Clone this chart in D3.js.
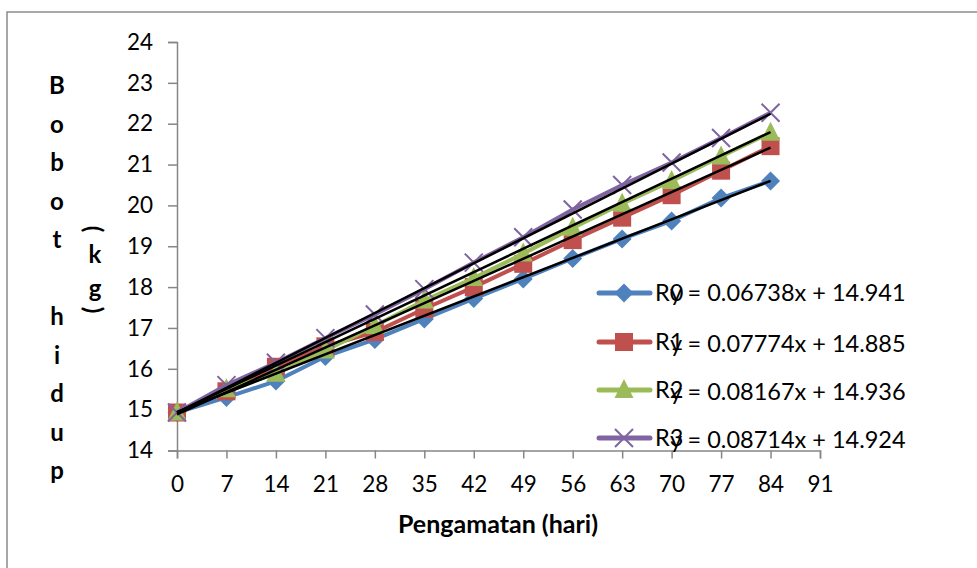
<!DOCTYPE html>
<html>
<head>
<meta charset="utf-8">
<script src="https://cdn.jsdelivr.net/npm/d3@7"></script>
<style>
  body { margin: 0; background: #fff; }
  text { font-family: Lato, "Open Sans", sans-serif; fill: #000; }
</style>
</head>
<body>
<script>
// data
var days = [0, 7, 14, 21, 28, 35, 42, 49, 56, 63, 70, 77, 84];
var r0 = [14.93, 15.30, 15.70, 16.30, 16.72, 17.22, 17.72, 18.20, 18.70, 19.18, 19.62, 20.18, 20.60];
var r1 = [14.93, 15.45, 16.05, 16.55, 16.90, 17.47, 18.00, 18.57, 19.15, 19.70, 20.25, 20.85, 21.45];
var r2 = [14.93, 15.50, 15.88, 16.45, 17.05, 17.67, 18.22, 18.82, 19.45, 20.04, 20.60, 21.20, 21.78];
var r3 = [14.93, 15.60, 16.15, 16.75, 17.33, 17.95, 18.60, 19.22, 19.90, 20.50, 21.05, 21.65, 22.27];
var seriesNames = ['R0', 'R1', 'R2', 'R3'];
var slopes = [0.06738, 0.07774, 0.08167, 0.08714];
var intercepts = [14.941, 14.885, 14.936, 14.924];
var xTicks = [0, 7, 14, 21, 28, 35, 42, 49, 56, 63, 70, 77, 84, 91];
var yTicks = [14, 15, 16, 17, 18, 19, 20, 21, 22, 23, 24];
var yTitle1 = ['B', 'o', 'b', 'o', 't', '', 'h', 'i', 'd', 'u', 'p'];

var colors = ['#4F81BD', '#C0504D', '#9BBB59', '#8064A2'];
var shapes = ['diamond', 'square', 'triangle', 'cross'];
var allSeries = [r0, r1, r2, r3];

var svg = d3.select('body').append('svg')
    .attr('width', 977).attr('height', 568);

// chart border
svg.append('rect')
    .attr('x', 7).attr('y', 12).attr('width', 1000).attr('height', 600)
    .attr('fill', 'none').attr('stroke', '#8c8c8c').attr('stroke-width', 1.5);

var x = d3.scaleLinear().domain([0, 91]).range([177, 820]);
var y = d3.scaleLinear().domain([14, 24]).range([450.5, 42]);

// axes
var yAxis = svg.append('g').attr('transform', 'translate(177,0)')
    .call(d3.axisLeft(y).tickValues(yTicks).tickSize(9).tickPadding(15));
var xAxis = svg.append('g').attr('transform', 'translate(0,450.5)')
    .call(d3.axisBottom(x).tickValues(xTicks).tickSize(8).tickPadding(18));
[xAxis, yAxis].forEach(function (a) {
    a.selectAll('path, line').attr('stroke', '#868686').attr('stroke-width', 1.5);
    a.selectAll('text').style('font-size', '22.5px').style('font-family', 'Lato');
});

// marker drawing
function marker(g, shape, color, cx, cy) {
    if (shape === 'diamond') {
        g.append('path').attr('d', 'M' + cx + ',' + (cy - 9.5) + 'L' + (cx + 9.5) + ',' + cy +
            'L' + cx + ',' + (cy + 9.5) + 'L' + (cx - 9.5) + ',' + cy + 'Z').attr('fill', color);
    } else if (shape === 'square') {
        g.append('rect').attr('x', cx - 9).attr('y', cy - 9).attr('width', 18).attr('height', 18)
            .attr('fill', color);
    } else if (shape === 'triangle') {
        g.append('path').attr('d', 'M' + cx + ',' + (cy - 11) + 'L' + (cx + 9.5) + ',' + (cy + 8) +
            'L' + (cx - 9.5) + ',' + (cy + 8) + 'Z').attr('fill', color);
    } else {
        g.append('path').attr('d', 'M' + (cx - 9) + ',' + (cy - 9) + 'L' + (cx + 9) + ',' + (cy + 9) +
            'M' + (cx + 9) + ',' + (cy - 9) + 'L' + (cx - 9) + ',' + (cy + 9))
            .attr('stroke', color).attr('stroke-width', 2).attr('fill', 'none');
    }
}

var line = d3.line().x(function (d, i) { return x(days[i]); }).y(function (d) { return y(d); });

allSeries.forEach(function (vals, s) {
    var g = svg.append('g');
    g.append('path').datum(vals).attr('d', line)
        .attr('fill', 'none').attr('stroke', colors[s]).attr('stroke-width', 4);
    vals.forEach(function (v, i) { marker(g, shapes[s], colors[s], x(days[i]), y(v)); });
});

// linear trend lines
slopes.forEach(function (m, s) {
    svg.append('line')
        .attr('x1', x(0)).attr('y1', y(intercepts[s]))
        .attr('x2', x(84)).attr('y2', y(m * 84 + intercepts[s]))
        .attr('stroke', '#000').attr('stroke-width', 2.5);
});

// legend + equations (equations sit over the legend, like in the original)
var legendY = [293, 342, 390, 438];
seriesNames.forEach(function (name, s) {
    var ly = legendY[s];
    svg.append('line').attr('x1', 599).attr('x2', 650).attr('y1', ly).attr('y2', ly)
        .attr('stroke', colors[s]).attr('stroke-width', 5).attr('stroke-linecap', 'round');
    marker(svg, shapes[s], colors[s], 624, ly);
    svg.append('text').attr('x', 655).attr('y', ly + 8).style('font-size', '23.5px').text(name);
    svg.append('text').attr('x', 670).attr('y', ly + 8 + (s === 0 ? 0 : 2)).style('font-size', '23.5px')
        .text('y = ' + slopes[s].toFixed(5) + 'x + ' + intercepts[s].toFixed(3));
});

// axis titles
svg.append('text').attr('x', 498).attr('y', 533).attr('text-anchor', 'middle')
    .style('font-size', '25px').style('font-weight', 'bold').text('Pengamatan (hari)');

yTitle1.forEach(function (c, i) {
    svg.append('text').attr('x', 57).attr('y', 94 + i * 38.5).attr('text-anchor', 'middle')
        .style('font-size', '24px').style('font-weight', 'bold').text(c);
});
svg.append('text').attr('transform', 'translate(93,229) rotate(90)').attr('text-anchor', 'middle')
    .attr('dy', '0.35em').style('font-size', '24px').style('font-weight', 'bold').text('(');
svg.append('text').attr('x', 95).attr('y', 263).attr('text-anchor', 'middle')
    .style('font-size', '24px').style('font-weight', 'bold').text('k');
svg.append('text').attr('x', 95).attr('y', 297).attr('text-anchor', 'middle')
    .style('font-size', '24px').style('font-weight', 'bold').text('g');
svg.append('text').attr('transform', 'translate(93,310) rotate(90)').attr('text-anchor', 'middle')
    .attr('dy', '0.35em').style('font-size', '24px').style('font-weight', 'bold').text(')');
</script>
</body>
</html>
